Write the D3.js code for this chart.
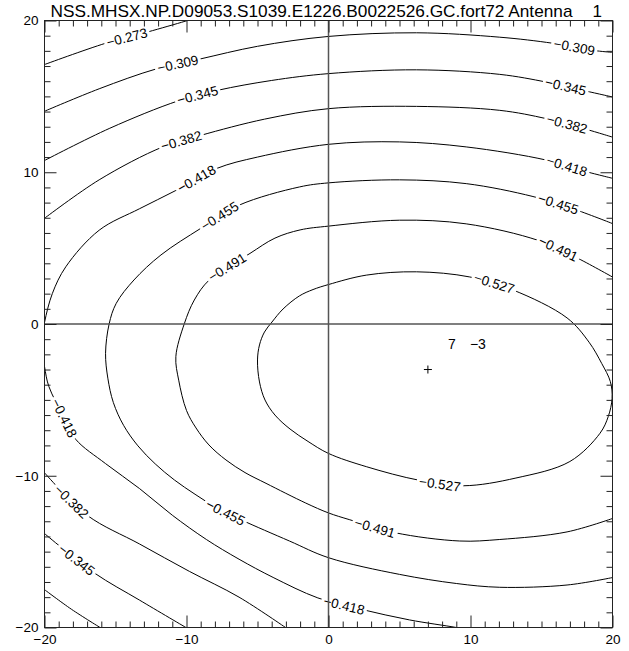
<!DOCTYPE html>
<html><head><meta charset="utf-8">
<script src="https://cdn.jsdelivr.net/npm/d3@7"></script>
<style>body{margin:0;background:#fff}svg{display:block}</style>
</head><body><div id="chart"></div>
<script>
// ---------- data ----------
const titleText = "NSS.MHSX.NP.D09053.S1039.E1226.B0022526.GC.fort72 Antenna";
const titleSuffix = "1";
const xDomain = [-20, 20];
const yDomain = [-20, 20];
const xTickValues = [-20, -10, 0, 10, 20];
const yTickValues = [-20, -10, 0, 10, 20];
const minorTickValues = [-19,-18,-17,-16,-15,-14,-13,-12,-11,-9,-8,-7,-6,-5,-4,-3,-2,-1,1,2,3,4,5,6,7,8,9,11,12,13,14,15,16,17,18,19];
const levels = [-0.273, -0.309, -0.345, -0.382, -0.418, -0.455, -0.491, -0.527];
const centerPoint = [7, -3];

// contour lines, [x, y] in data units
const c273 = [[-20.05,17.08],[-15.7,18.5],[-12.75,19.24],[-10.1,19.95],[-9.4,20.15]];
const c309a = [[-20.05,14.0],[-16.15,15.5],[-12.16,16.8],[-9.1,17.45],[-5,18.3],[0,18.95],[6.2,19.19],[12.06,18.9],[15.8,18.5],[18.9,18.0],[20.05,17.9]];
const c309b = [[-20.05,-17.47],[-18.1,-18.8],[-16.0,-20.05]];
const c345a = [[-20.05,10.75],[-15.4,12.9],[-10.6,14.7],[-7.8,15.4],[-4,16.05],[0,16.5],[6.2,16.75],[12.06,16.45],[15.35,15.94],[17.9,15.4],[20.05,14.95]];
const c345b = [[-20.05,-13.77],[-16.5,-16.4],[-13.3,-18.2],[-9.95,-20.05]];
const c382a = [[-20.05,6.93],[-16.15,9.5],[-11.7,11.66],[-9.0,12.43],[-4.5,13.5],[0,14.19],[6.2,14.34],[12.06,14.08],[15.35,13.53],[17.9,12.9],[20.05,12.3]];
const c382b = [[-20.05,-9.75],[-17.0,-12.6],[-13.3,-14.5],[-9.8,-16.3],[-6.3,-18.0],[-2.95,-20.05]];
const c418 = [[20.05,9.59],[17.9,10.1],[15.35,10.8],[9.7,11.67],[5,12.0],[0,11.84],[-5,11.0],[-7.9,10.24],[-10.75,8.8],[-13.3,7.6],[-16.15,6.18],[-18.5,3.77],[-19.45,2.0],[-20,0.1],[-20.25,-1.35],[-20,-2.8],[-19.7,-4.1],[-18.6,-6.2],[-17.8,-7.6],[-15.7,-9.2],[-13.3,-10.85],[-11.0,-12.6],[-8.6,-14.2],[-6.3,-15.5],[-3.9,-16.7],[-0.75,-18.05],[2.3,-18.8],[5.7,-19.5],[9.0,-20.0],[9.8,-20.15]];
const c455 = [[20.05,6.6],[17.2,7.6],[14.4,8.4],[9.7,9.25],[5,9.5],[0,9.3],[-2.05,9.03],[-6.3,7.83],[-9.0,6.3],[-11.8,4.55],[-13.7,2.9],[-14.95,1.36],[-15.45,0],[-15.7,-1.93],[-15.54,-3.57],[-15.15,-5.18],[-14.43,-6.68],[-13.42,-8.03],[-12.2,-9.22],[-10.85,-10.28],[-9.4,-11.22],[-7.91,-12.09],[-6.16,-12.9],[-2.75,-14.3],[0,-15.4],[5.0,-16.5],[9,-17.1],[12.06,-17.35],[16.8,-17.2],[20.05,-16.7]];
const c491 = [[20.05,3.07],[17.35,4.43],[14.8,5.5],[9.7,6.6],[5,6.84],[0,6.45],[-2.0,6.2],[-3.77,5.66],[-5.53,4.65],[-8.4,2.9],[-9.45,1.58],[-10.16,0],[-10.75,-2.15],[-10.55,-3.7],[-10.0,-5.7],[-9.33,-6.85],[-8.42,-7.97],[-7.22,-8.96],[-5.88,-9.79],[-4.4,-10.5],[-1.6,-11.8],[0,-12.45],[1.5,-12.9],[4.66,-13.75],[9.24,-14.3],[12.06,-14.2],[16.8,-13.7],[20.05,-12.8]];
const c527 = [[-5.0,-2.37],[-4.86,-3.82],[-4.47,-5.01],[-3.77,-6.0],[-2.71,-6.92],[-1.44,-7.74],[0,-8.53],[2.66,-9.4],[6.4,-10.3],[9.5,-10.66],[13.2,-10.15],[17.0,-9.06],[19.12,-7.2],[19.7,-6.1],[19.97,-4.9],[19.85,-3.8],[19.24,-2.6],[18.35,-1.2],[16.8,0.4],[13.0,2.24],[9.95,3.1],[6.2,3.44],[2.66,3.22],[0,2.6],[-1.09,2.27],[-2.05,1.85],[-3.2,0.99],[-3.98,0.13],[-4.51,-0.53],[-4.86,-1.38]];

// label spots: [level, x, y]
const labelSpots = [
  [-0.273,-14.2,18.9],
  [-0.309,-10.6,17.1],[-0.309,17.3,18.3],
  [-0.345,-9.2,15.05],[-0.345,16.7,15.65],[-0.345,-17.7,-15.5],
  [-0.382,-10.35,12.05],[-0.382,16.8,13.2],[-0.382,-18.0,-11.6],
  [-0.418,-9.33,9.6],[-0.418,16.8,10.5],[-0.418,-18.6,-6.2],[-0.418,1.1,-18.5],
  [-0.455,-7.65,7.1],[-0.455,16.2,8.0],[-0.455,-7.2,-12.3],
  [-0.491,-7.1,3.7],[-0.491,16.2,5.0],[-0.491,3.3,-13.36],
  [-0.527,11.65,2.64],[-0.527,7.85,-10.6]
];

const segments = [
  {level:-0.273, pts:c273, closed:false},
  {level:-0.309, pts:c309a, closed:false},
  {level:-0.309, pts:c309b, closed:false},
  {level:-0.345, pts:c345a, closed:false},
  {level:-0.345, pts:c345b, closed:false},
  {level:-0.382, pts:c382a, closed:false},
  {level:-0.382, pts:c382b, closed:false},
  {level:-0.418, pts:c418, closed:false},
  {level:-0.455, pts:c455, closed:false},
  {level:-0.491, pts:c491, closed:false},
  {level:-0.527, pts:c527, closed:true}
];

// ---------- drawing ----------
const W = 629, H = 651;
const x = d3.scaleLinear().domain(xDomain).range([44.5, 612.5]);
const y = d3.scaleLinear().domain(yDomain).range([627.5, 20.5]);
const FONT = "'Liberation Sans', Arial, Helvetica, sans-serif";
const minus = s => String(s).replace("-", "\u2212");

const svg = d3.select("#chart").append("svg").attr("width", W).attr("height", H)
  .style("font-family", FONT);

svg.append("defs").append("clipPath").attr("id","plotclip")
  .append("rect").attr("x", x(-20)).attr("y", y(20))
  .attr("width", x(20)-x(-20)).attr("height", y(-20)-y(20));

const lineOpen = d3.line().x(d=>x(d[0])).y(d=>y(d[1])).curve(d3.curveCatmullRom.alpha(0.5));
const lineClosed = d3.line().x(d=>x(d[0])).y(d=>y(d[1])).curve(d3.curveCatmullRomClosed.alpha(0.5));

const gC = svg.append("g").attr("clip-path","url(#plotclip)");
const paths = gC.selectAll("path.contour").data(segments).join("path")
  .attr("class","contour")
  .attr("d", d => d.closed ? lineClosed(d.pts) : lineOpen(d.pts))
  .attr("fill","none").attr("stroke","#000").attr("stroke-width",1);

// labels along the lines
const gL = svg.append("g");
labelSpots.forEach(([lev, lx, ly]) => {
  const px = x(lx), py = y(ly);
  let best = {d: Infinity};
  paths.filter(d => d.level === lev).each(function() {
    const L = this.getTotalLength();
    for (let s = 0; s <= L; s += 0.5) {
      const p = this.getPointAtLength(s);
      const dd = (p.x-px)**2 + (p.y-py)**2;
      if (dd < best.d) best = {d: dd, s, node: this, L};
    }
  });
  const n = best.node;
  const a = n.getPointAtLength(Math.max(0, best.s-9));
  const b = n.getPointAtLength(Math.min(best.L, best.s+9));
  let ang = Math.atan2(b.y-a.y, b.x-a.x) * 180 / Math.PI;
  if (ang > 90) ang -= 180;
  if (ang < -90) ang += 180;
  const p = n.getPointAtLength(best.s);
  const g = gL.append("g").attr("transform", `translate(${p.x},${p.y}) rotate(${ang})`);
  const t = g.append("text").attr("text-anchor","middle").attr("dy","0.36em")
    .attr("font-size", 13.5).attr("fill","#000").text(minus(lev.toFixed(3)));
  const w = t.node().getComputedTextLength();
  g.insert("rect","text").attr("x", -w/2-2.5).attr("y", -5.5).attr("width", w+5).attr("height", 11).attr("fill","#fff");
});

// center marker
const cx = x(centerPoint[0]), cy = y(centerPoint[1]);
svg.append("path").attr("d", `M${cx-4},${cy}H${cx+4}M${cx},${cy-4}V${cy+4}`)
  .attr("stroke","#000").attr("stroke-width",1);
svg.append("text").attr("x", cx+20).attr("y", cy-21).attr("font-size", 14).text(minus(centerPoint[0]));
svg.append("text").attr("x", cx+42).attr("y", cy-21).attr("font-size", 14).text(minus(centerPoint[1]));

// zero lines
svg.append("line").attr("x1", x(0)).attr("x2", x(0)).attr("y1", y(20)).attr("y2", y(-20))
  .attr("stroke","#555").attr("stroke-width",1.5);
svg.append("line").attr("x1", x(-20)).attr("x2", x(20)).attr("y1", y(0)).attr("y2", y(0))
  .attr("stroke","#555").attr("stroke-width",1.5);

// axes: minor and major ticks on all four sides
function styleAxis(g) {
  g.select(".domain").remove();
  g.selectAll("line").attr("stroke","#222");
  g.selectAll("text").attr("font-family", FONT).attr("font-size", 13.5).attr("fill","#000");
}
const fmt = d => minus(d);
svg.append("g").attr("transform",`translate(0,${y(-20)})`)
  .call(d3.axisBottom(x).tickValues(minorTickValues).tickSize(-6).tickFormat("")).call(styleAxis);
svg.append("g").attr("transform",`translate(0,${y(-20)})`)
  .call(d3.axisBottom(x).tickValues(xTickValues).tickSize(-12).tickPadding(7).tickFormat(fmt)).call(styleAxis);
svg.append("g").attr("transform",`translate(0,${y(20)})`)
  .call(d3.axisTop(x).tickValues(minorTickValues).tickSize(-6).tickFormat("")).call(styleAxis);
svg.append("g").attr("transform",`translate(0,${y(20)})`)
  .call(d3.axisTop(x).tickValues(xTickValues).tickSize(-12).tickFormat("")).call(styleAxis);
svg.append("g").attr("transform",`translate(${x(-20)},0)`)
  .call(d3.axisLeft(y).tickValues(minorTickValues).tickSize(-6).tickFormat("")).call(styleAxis);
svg.append("g").attr("transform",`translate(${x(-20)},0)`)
  .call(d3.axisLeft(y).tickValues(yTickValues).tickSize(-12).tickPadding(6).tickFormat(fmt)).call(styleAxis);
svg.append("g").attr("transform",`translate(${x(20)},0)`)
  .call(d3.axisRight(y).tickValues(minorTickValues).tickSize(-6).tickFormat("")).call(styleAxis);
svg.append("g").attr("transform",`translate(${x(20)},0)`)
  .call(d3.axisRight(y).tickValues(yTickValues).tickSize(-12).tickFormat("")).call(styleAxis);

// frame
svg.append("rect").attr("x", x(-20)).attr("y", y(20))
  .attr("width", x(20)-x(-20)).attr("height", y(-20)-y(20))
  .attr("fill","none").attr("stroke","#222").attr("stroke-width",1);

// title
svg.append("text").attr("x", 50.5).attr("y", 17).attr("font-size", 17)
  .attr("textLength", 522).attr("lengthAdjust","spacingAndGlyphs").text(titleText);
svg.append("text").attr("x", 602).attr("y", 17).attr("font-size", 17)
  .attr("text-anchor","end").text(titleSuffix);
</script>
</body></html>
